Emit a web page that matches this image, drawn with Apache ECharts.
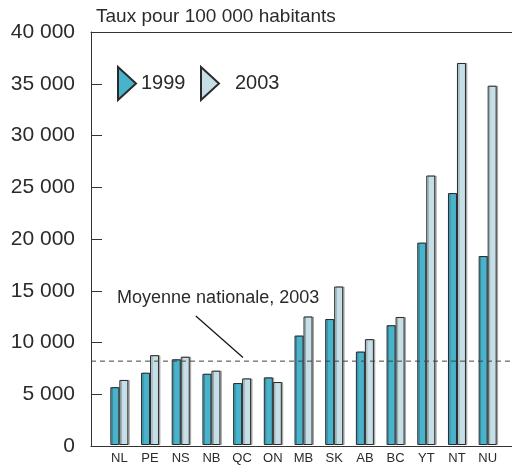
<!DOCTYPE html>
<html>
<head>
<meta charset="utf-8">
<script src="https://cdn.jsdelivr.net/npm/echarts@6/dist/echarts.min.js"></script>
<style>
    html, body { margin: 0; padding: 0; background: #fff; }
    #chart { width: 512px; height: 465px; }
</style>
</head>
<body>
<div id="chart"></div>
<script>
// provinces and territories
const categories = ['NL', 'PE', 'NS', 'NB', 'QC', 'ON', 'MB', 'SK', 'AB', 'BC', 'YT', 'NT', 'NU']
const rates1999 = [5600, 7000, 8300, 6900, 6000, 6550, 10600, 12200, 9050, 11600, 19600, 24400, 18300]
const rates2003 = [6300, 8700, 8550, 7200, 6450, 6100, 12450, 15350, 10250, 12400, 26100, 37000, 34800]
const nationalAverage2003 = 8200
const yTicks = [0, 5000, 10000, 15000, 20000, 25000, 30000, 35000, 40000]

const FONT = 'Liberation Sans'
const TEXT = '#2b2b2b'
const AXIS = '#333'
const COLOR_1999 = '#4ab3cc'
const COLOR_2003 = '#c6dfe7'

const formatThousands = value => String(value).replace(/\B(?=(\d{3})+(?!\d))/g, ' ')

const triangle = 'path://M0,0 L18,16.5 L0,33 Z'

const chart = echarts.init(document.getElementById('chart'), null, { renderer: 'canvas' })

const barStyle = color => ({
    color: color,
    borderColor: '#2a2a2a',
    borderWidth: 1,
    shadowColor: 'rgba(0,0,0,0.25)',
    shadowOffsetX: 1.5,
    shadowOffsetY: 0,
    shadowBlur: 0,
})

chart.setOption({
    animation: false,
    textStyle: { fontFamily: FONT, color: TEXT },
    title: {
        text: 'Taux pour 100 000 habitants',
        left: 96,
        top: 7,
        padding: 0,
        textStyle: { fontFamily: FONT, fontSize: 19, fontWeight: 'normal', color: TEXT },
    },
    legend: [
        {
            data: ['1999'],
            left: 117,
            top: 66,
            padding: 0,
            itemWidth: 18,
            itemHeight: 33,
            icon: triangle,
            textStyle: { fontFamily: FONT, fontSize: 20, color: TEXT },
        },
        {
            data: ['2003'],
            left: 200,
            top: 66,
            padding: 0,
            itemWidth: 18,
            itemHeight: 33,
            icon: triangle,
            textStyle: { fontFamily: FONT, fontSize: 20, color: TEXT, padding: [0, 0, 0, 11] },
        },
    ],
    grid: [
        { left: 91, right: 0, top: 32, bottom: 19 },
        { left: 104, width: 399, top: 32, bottom: 19 },
    ],
    xAxis: [
        {
            gridIndex: 0,
            type: 'value',
            min: 0,
            max: 1,
            position: 'bottom',
            axisLine: { show: true, lineStyle: { color: AXIS, width: 1 } },
            axisTick: { show: false },
            axisLabel: { show: false },
            splitLine: { show: false },
        },
        {
            gridIndex: 0,
            type: 'value',
            min: 0,
            max: 1,
            position: 'top',
            axisLine: { show: true, lineStyle: { color: AXIS, width: 1 } },
            axisTick: { show: false },
            axisLabel: { show: false },
            splitLine: { show: false },
        },
        {
            gridIndex: 1,
            type: 'category',
            data: categories,
            axisLine: { show: false },
            axisTick: { show: false },
            axisLabel: { color: TEXT, fontFamily: FONT, fontSize: 13, margin: 7 },
        },
    ],
    yAxis: [
        {
            gridIndex: 0,
            type: 'value',
            min: 0,
            max: 40000,
            interval: 5000,
            axisLine: { show: true, lineStyle: { color: AXIS, width: 1 } },
            axisTick: { show: true, inside: true, length: 11, lineStyle: { color: AXIS } },
            axisLabel: {
                color: TEXT,
                fontFamily: FONT,
                fontSize: 21,
                margin: 16,
                formatter: value => (yTicks.includes(value) ? formatThousands(value) : ''),
            },
            splitLine: { show: false },
        },
        {
            gridIndex: 1,
            type: 'value',
            min: 0,
            max: 40000,
            show: false,
        },
    ],
    series: [
        {
            name: '1999',
            type: 'bar',
            xAxisIndex: 2,
            yAxisIndex: 1,
            barWidth: 9,
            barGap: '0%',
            itemStyle: barStyle(COLOR_1999),
            data: rates1999,
        },
        {
            name: '2003',
            type: 'bar',
            xAxisIndex: 2,
            yAxisIndex: 1,
            barWidth: 9,
            barGap: '0%',
            itemStyle: barStyle(COLOR_2003),
            data: rates2003,
        },
        {
            name: 'Moyenne nationale',
            type: 'line',
            xAxisIndex: 0,
            yAxisIndex: 0,
            symbol: 'none',
            silent: true,
            lineStyle: { color: '#444', width: 1, type: [5, 4] },
            data: [[0, nationalAverage2003], [1, nationalAverage2003]],
            markLine: {
                silent: true,
                symbol: 'none',
                label: { show: false },
                lineStyle: { color: '#111', width: 1.2, type: 'solid' },
                data: [[{ coord: [0.249, 12560] }, { coord: [0.361, 8550] }]],
            },
            markPoint: {
                silent: true,
                symbol: 'circle',
                symbolSize: 0,
                label: {
                    show: true,
                    position: 'inside',
                    formatter: 'Moyenne nationale, 2003',
                    fontFamily: FONT,
                    fontSize: 18,
                    color: TEXT,
                },
                data: [{ coord: [0.302, 14300] }],
            },
        },
    ],
})
</script>
</body>
</html>
